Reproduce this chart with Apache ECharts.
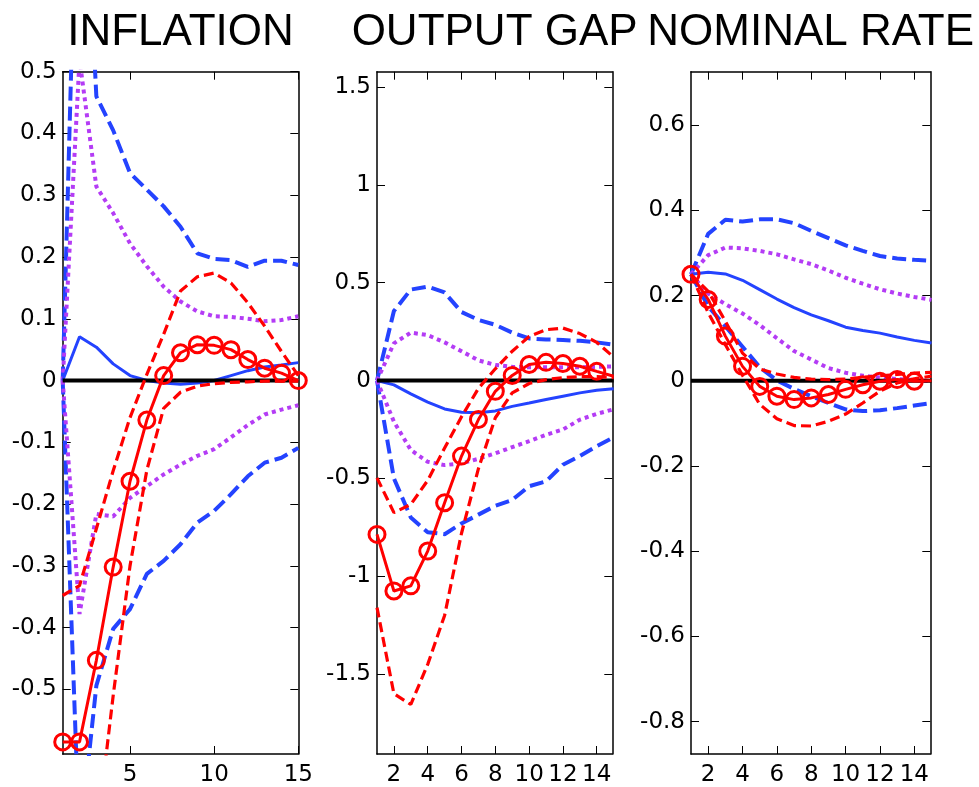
<!DOCTYPE html>
<html><head><meta charset="utf-8">
<script src="https://cdn.jsdelivr.net/npm/echarts@6/dist/echarts.min.js"></script>
<style>html,body{margin:0;padding:0;background:#fff}#c{width:979px;height:787px}</style>
</head><body><div id="c"></div>
<script>
const steps = [1,2,3,4,5,6,7,8,9,10,11,12,13,14,15];
const titles = ['INFLATION', 'OUTPUT GAP', 'NOMINAL RATE'];
const zeroLine = [0,0,0,0,0,0,0,0,0,0,0,0,0,0,0];

// INFLATION
const infRed    = [-0.585,-0.585,-0.453,-0.302,-0.163,-0.064,0.008,0.045,0.058,0.057,0.050,0.034,0.020,0.012,0.0];
const infRedUp  = [-0.348,-0.332,-0.24,-0.146,-0.06,0.01,0.075,0.145,0.168,0.174,0.158,0.126,0.088,0.047,0.008];
const infRedLo  = [-1.0,-0.95,-0.74,-0.51,-0.30,-0.145,-0.045,-0.019,-0.009,-0.005,-0.003,-0.002,-0.001,-0.001,-0.001];
const infBlue   = [0,0.071,0.054,0.027,0.008,0.0,-0.004,-0.006,-0.004,0.0,0.008,0.016,0.022,0.025,0.029];
const infBlueUp = [0,1.0,0.46,0.405,0.336,0.309,0.282,0.249,0.206,0.197,0.195,0.184,0.194,0.194,0.187];
const infBlueLo = [0,-0.75,-0.494,-0.402,-0.37,-0.313,-0.292,-0.265,-0.23,-0.211,-0.184,-0.155,-0.133,-0.125,-0.109];
const infPurUp  = [0,0.52,0.314,0.271,0.222,0.185,0.152,0.128,0.112,0.104,0.103,0.100,0.096,0.098,0.104];
const infPurLo  = [0,-0.378,-0.216,-0.22,-0.19,-0.171,-0.152,-0.136,-0.122,-0.111,-0.092,-0.072,-0.055,-0.047,-0.040];

// OUTPUT GAP
const gapRed    = [-0.786,-1.075,-1.049,-0.871,-0.624,-0.386,-0.199,-0.055,0.026,0.082,0.093,0.087,0.073,0.047,0.022];
const gapRedUp  = [-0.497,-0.675,-0.633,-0.51,-0.345,-0.185,-0.04,0.06,0.15,0.225,0.26,0.268,0.24,0.195,0.12];
const gapRedLo  = [-1.16,-1.60,-1.655,-1.45,-1.20,-0.78,-0.45,-0.19,-0.063,-0.015,0.005,0.015,0.02,0.02,0.015];
const gapBlue   = [0,-0.022,-0.068,-0.11,-0.145,-0.162,-0.165,-0.155,-0.132,-0.115,-0.097,-0.08,-0.063,-0.05,-0.042];
const gapBlueUp = [0,0.355,0.465,0.48,0.45,0.35,0.31,0.285,0.245,0.215,0.21,0.207,0.203,0.195,0.183];
const gapBlueLo = [0,-0.50,-0.70,-0.775,-0.785,-0.73,-0.685,-0.64,-0.61,-0.54,-0.515,-0.43,-0.386,-0.335,-0.29];
const gapPurUp  = [0,0.19,0.245,0.232,0.195,0.15,0.103,0.08,0.07,0.068,0.068,0.068,0.068,0.07,0.072];
const gapPurLo  = [0,-0.21,-0.355,-0.415,-0.432,-0.423,-0.40,-0.372,-0.34,-0.31,-0.277,-0.25,-0.20,-0.17,-0.147];

// NOMINAL RATE
const rateRed    = [0.25,0.191,0.105,0.034,-0.013,-0.036,-0.044,-0.040,-0.032,-0.020,-0.009,-0.001,0.003,-0.001,0.0];
const rateRedUp  = [0.25,0.21,0.14,0.065,0.028,0.016,0.008,0.004,0.003,0.004,0.008,0.012,0.015,0.018,0.02];
const rateRedLo  = [0.25,0.16,0.085,0.013,-0.055,-0.089,-0.105,-0.106,-0.095,-0.078,-0.052,-0.024,-0.005,0.005,0.011];
const rateBlue   = [0.25,0.255,0.251,0.236,0.214,0.192,0.172,0.155,0.141,0.126,0.118,0.112,0.103,0.095,0.089];
const rateBlueUp = [0.25,0.345,0.378,0.374,0.379,0.379,0.37,0.352,0.335,0.318,0.305,0.293,0.287,0.284,0.282];
const rateBlueLo = [0.25,0.175,0.128,0.08,0.032,0.001,-0.019,-0.036,-0.052,-0.067,-0.071,-0.069,-0.064,-0.058,-0.052];
const ratePurUp  = [0.25,0.295,0.313,0.311,0.305,0.297,0.285,0.274,0.259,0.242,0.228,0.215,0.205,0.197,0.19];
const ratePurLo  = [0.25,0.205,0.18,0.158,0.131,0.1,0.07,0.05,0.03,0.019,0.012,0.008,0.004,0.002,-0.001];

// tick labels
const xTicks1 = [5, 10, 15];
const xTicks23 = [2, 4, 6, 8, 10, 12, 14];
const yTicks1 = [-0.5, -0.4, -0.3, -0.2, -0.1, 0, 0.1, 0.2, 0.3, 0.4, 0.5];
const yTicks2 = [-1.5, -1, -0.5, 0, 0.5, 1, 1.5];
const yTicks3 = [-0.8, -0.6, -0.4, -0.2, 0, 0.2, 0.4, 0.6];

const BLUE = '#2443ff', PURPLE = '#b43cf5', RED = '#ff0000';

const panels = [
  {grid:{left:62.7, top:71.7, width:235.6, height:683.3}, xr:[1,15], yr:[-0.6046,0.5], xt:xTicks1, yt:yTicks1,
   d:{red:infRed, redUp:infRedUp, redLo:infRedLo, blue:infBlue, blueUp:infBlueUp, blueLo:infBlueLo, purUp:infPurUp, purLo:infPurLo}},
  {grid:{left:377, top:71.7, width:235.3, height:683.3}, xr:[1,14.92], yr:[-1.908,1.578], xt:xTicks23, yt:yTicks2,
   d:{red:gapRed, redUp:gapRedUp, redLo:gapRedLo, blue:gapBlue, blueUp:gapBlueUp, blueLo:gapBlueLo, purUp:gapPurUp, purLo:gapPurLo}},
  {grid:{left:691, top:71.7, width:239.3, height:683.3}, xr:[1,14.93], yr:[-0.8758,0.7256], xt:xTicks23, yt:yTicks3,
   d:{red:rateRed, redUp:rateRedUp, redLo:rateRedLo, blue:rateBlue, blueUp:rateBlueUp, blueLo:rateBlueLo, purUp:ratePurUp, purLo:ratePurLo}}
];

const labelFont = {color:'#000', fontFamily:'DejaVu Sans', fontSize:23};
const axLine = {show:true, onZero:false, lineStyle:{color:'#000', width:1.5}};
const grids = [], xAxes = [], yAxes = [], series = [], titleOpts = [];

panels.forEach((p, i) => {
  grids.push(Object.assign({containLabel:false}, p.grid));
  const cx = p.grid.left + p.grid.width / 2;
  titleOpts.push({text: titles[i], left: cx, top: 11, textAlign: 'center', padding: 0,
    textStyle:{fontFamily:'Liberation Sans', fontSize:44, fontWeight:'normal', color:'#000'}});
  const tick = {show:true, inside:true, length:8, customValues:p.xt, lineStyle:{color:'#000', width:1}};
  xAxes.push({type:'value', gridIndex:i, min:p.xr[0], max:p.xr[1], position:'bottom', axisLine:axLine,
    axisTick:tick, splitLine:{show:false},
    axisLabel:Object.assign({show:true, margin:10, customValues:p.xt}, labelFont)});
  xAxes.push({type:'value', gridIndex:i, min:p.xr[0], max:p.xr[1], position:'top', axisLine:axLine,
    axisTick:tick, splitLine:{show:false}, axisLabel:{show:false}});
  const ytick = {show:true, inside:true, length:8, customValues:p.yt, lineStyle:{color:'#000', width:1}};
  yAxes.push({type:'value', gridIndex:i, min:p.yr[0], max:p.yr[1], position:'left', axisLine:axLine,
    axisTick:ytick, splitLine:{show:false},
    axisLabel:Object.assign({show:true, margin:6, customValues:p.yt}, labelFont)});
  yAxes.push({type:'value', gridIndex:i, min:p.yr[0], max:p.yr[1], position:'right', axisLine:axLine,
    axisTick:ytick, splitLine:{show:false}, axisLabel:{show:false}});

  const mk = (vals, ls, extra) => Object.assign({
    type:'line', xAxisIndex:2*i, yAxisIndex:2*i, silent:true, animation:false,
    symbol:'none', data: steps.map((s, k) => [s, vals[k]]), lineStyle: ls
  }, extra || {});
  const blueDash = {color:BLUE, width:4, type:[14,6]};
  const purDot = {color:PURPLE, width:4, type:[4,4]};
  const redDash = {color:RED, width:3.2, type:[10,5]};
  series.push(mk(p.d.blueUp, blueDash));
  series.push(mk(p.d.blueLo, blueDash));
  series.push(mk(p.d.purUp, purDot));
  series.push(mk(p.d.purLo, purDot));
  series.push(mk(p.d.blue, {color:BLUE, width:3}));
  series.push(mk(zeroLine, {color:'#000', width:4}));
  series.push(mk(p.d.redUp, redDash));
  series.push(mk(p.d.redLo, redDash));
  series.push(mk(p.d.red, {color:RED, width:3}, {
    symbol:'circle', symbolSize:16, showSymbol:true,
    itemStyle:{color:'rgba(255,255,255,0)', borderColor:RED, borderWidth:3}}));
});

const chart = echarts.init(document.getElementById('c'), null, {renderer:'canvas'});
chart.setOption({
  backgroundColor:'#fff', animation:false,
  title: titleOpts, grid: grids, xAxis: xAxes, yAxis: yAxes, series: series
});
</script></body></html>
